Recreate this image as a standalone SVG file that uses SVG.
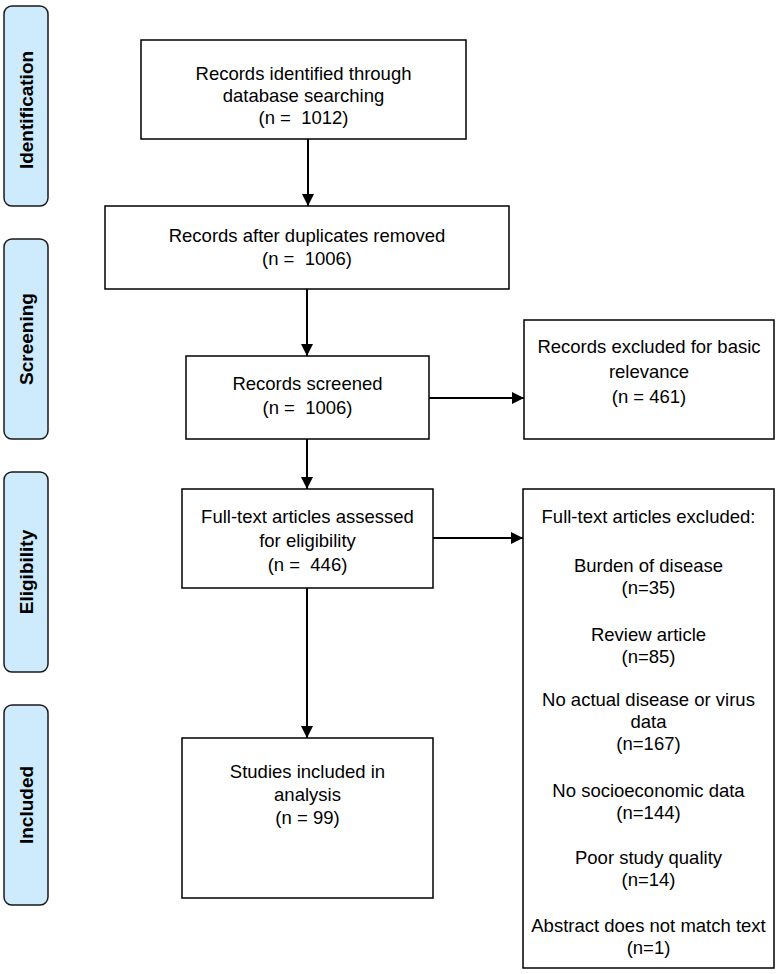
<svg xmlns="http://www.w3.org/2000/svg" width="780" height="974" viewBox="0 0 780 974">
<style>
.stage{fill:#CDEBFC;stroke:#1a1a1a;stroke-width:1.5}
.stxt{font-family:"Liberation Sans",Arial,sans-serif;font-weight:bold;font-size:19px;fill:#000;text-anchor:middle}
.box{fill:#fff;stroke:#000;stroke-width:1.5}
.t{font-family:"Liberation Sans",Arial,sans-serif;font-size:18.5px;fill:#000;text-anchor:middle}
.conn{stroke:#000;stroke-width:2;fill:none}
</style>
<defs>
<marker id="arr" markerUnits="userSpaceOnUse" markerWidth="13" markerHeight="12" refX="12" refY="6" orient="auto">
<path d="M0,0 L12,6 L0,12 Z" fill="#000"/>
</marker>
</defs>
<rect width="780" height="974" fill="#fff"/>
<g id="stage-identification">
<rect class="stage" x="4" y="6" width="44" height="200" rx="8"/>
<text class="stxt" transform="translate(26,110) rotate(-90)" y="7">Identification</text>
</g>
<g id="stage-screening">
<rect class="stage" x="4" y="239" width="44" height="200" rx="8"/>
<text class="stxt" transform="translate(26,339) rotate(-90)" y="7">Screening</text>
</g>
<g id="stage-eligibility">
<rect class="stage" x="4" y="472" width="44" height="200" rx="8"/>
<text class="stxt" transform="translate(26,572) rotate(-90)" y="7">Eligibility</text>
</g>
<g id="stage-included">
<rect class="stage" x="4" y="705" width="44" height="200" rx="8"/>
<text class="stxt" transform="translate(26,805) rotate(-90)" y="7">Included</text>
</g>
<g id="connectors">
<line class="conn" x1="308" y1="139" x2="308" y2="206" marker-end="url(#arr)"/>
<line class="conn" x1="307" y1="289" x2="307" y2="356" marker-end="url(#arr)"/>
<line class="conn" x1="429" y1="398" x2="524" y2="398" marker-end="url(#arr)"/>
<line class="conn" x1="307" y1="439" x2="307" y2="489" marker-end="url(#arr)"/>
<line class="conn" x1="433" y1="538" x2="523" y2="538" marker-end="url(#arr)"/>
<line class="conn" x1="307" y1="588" x2="307" y2="738" marker-end="url(#arr)"/>
</g>
<g id="n-identified">
<rect class="box" x="141" y="40" width="325" height="99"/>
<text class="t" x="303.5" y="80">Records identified through</text>
<text class="t" x="303.5" y="102">database searching</text>
<text class="t" x="303.5" y="124" xml:space="preserve">(n =  1012)</text>
</g>
<g id="n-dedup">
<rect class="box" x="105" y="206" width="404" height="83"/>
<text class="t" x="307" y="242">Records after duplicates removed</text>
<text class="t" x="307" y="265" xml:space="preserve">(n =  1006)</text>
</g>
<g id="n-screened">
<rect class="box" x="186" y="356" width="243" height="83"/>
<text class="t" x="307.5" y="390">Records screened</text>
<text class="t" x="307.5" y="414" xml:space="preserve">(n =  1006)</text>
</g>
<g id="n-excluded-basic">
<rect class="box" x="524" y="320" width="250" height="119"/>
<text class="t" x="649" y="353">Records excluded for basic</text>
<text class="t" x="649" y="378">relevance</text>
<text class="t" x="649" y="403">(n = 461)</text>
</g>
<g id="n-fulltext">
<rect class="box" x="182" y="489" width="251" height="99"/>
<text class="t" x="307.5" y="523">Full-text articles assessed</text>
<text class="t" x="307.5" y="547">for eligibility</text>
<text class="t" x="307.5" y="571" xml:space="preserve">(n =  446)</text>
</g>
<g id="n-fulltext-excluded">
<rect class="box" x="523" y="489" width="251" height="479"/>
<text class="t" x="648.5" y="523">Full-text articles excluded:</text>
<text class="t" x="648.5" y="572">Burden of disease</text>
<text class="t" x="648.5" y="594">(n=35)</text>
<text class="t" x="648.5" y="641">Review article</text>
<text class="t" x="648.5" y="663">(n=85)</text>
<text class="t" x="648.5" y="706">No actual disease or virus</text>
<text class="t" x="648.5" y="728">data</text>
<text class="t" x="648.5" y="750">(n=167)</text>
<text class="t" x="648.5" y="797">No socioeconomic data</text>
<text class="t" x="648.5" y="819">(n=144)</text>
<text class="t" x="648.5" y="864">Poor study quality</text>
<text class="t" x="648.5" y="886">(n=14)</text>
<text class="t" x="648.5" y="932">Abstract does not match text</text>
<text class="t" x="648.5" y="954">(n=1)</text>
</g>
<g id="n-included">
<rect class="box" x="182" y="738" width="251" height="160"/>
<text class="t" x="307.5" y="778">Studies included in</text>
<text class="t" x="307.5" y="801">analysis</text>
<text class="t" x="307.5" y="824">(n = 99)</text>
</g>
</svg>
